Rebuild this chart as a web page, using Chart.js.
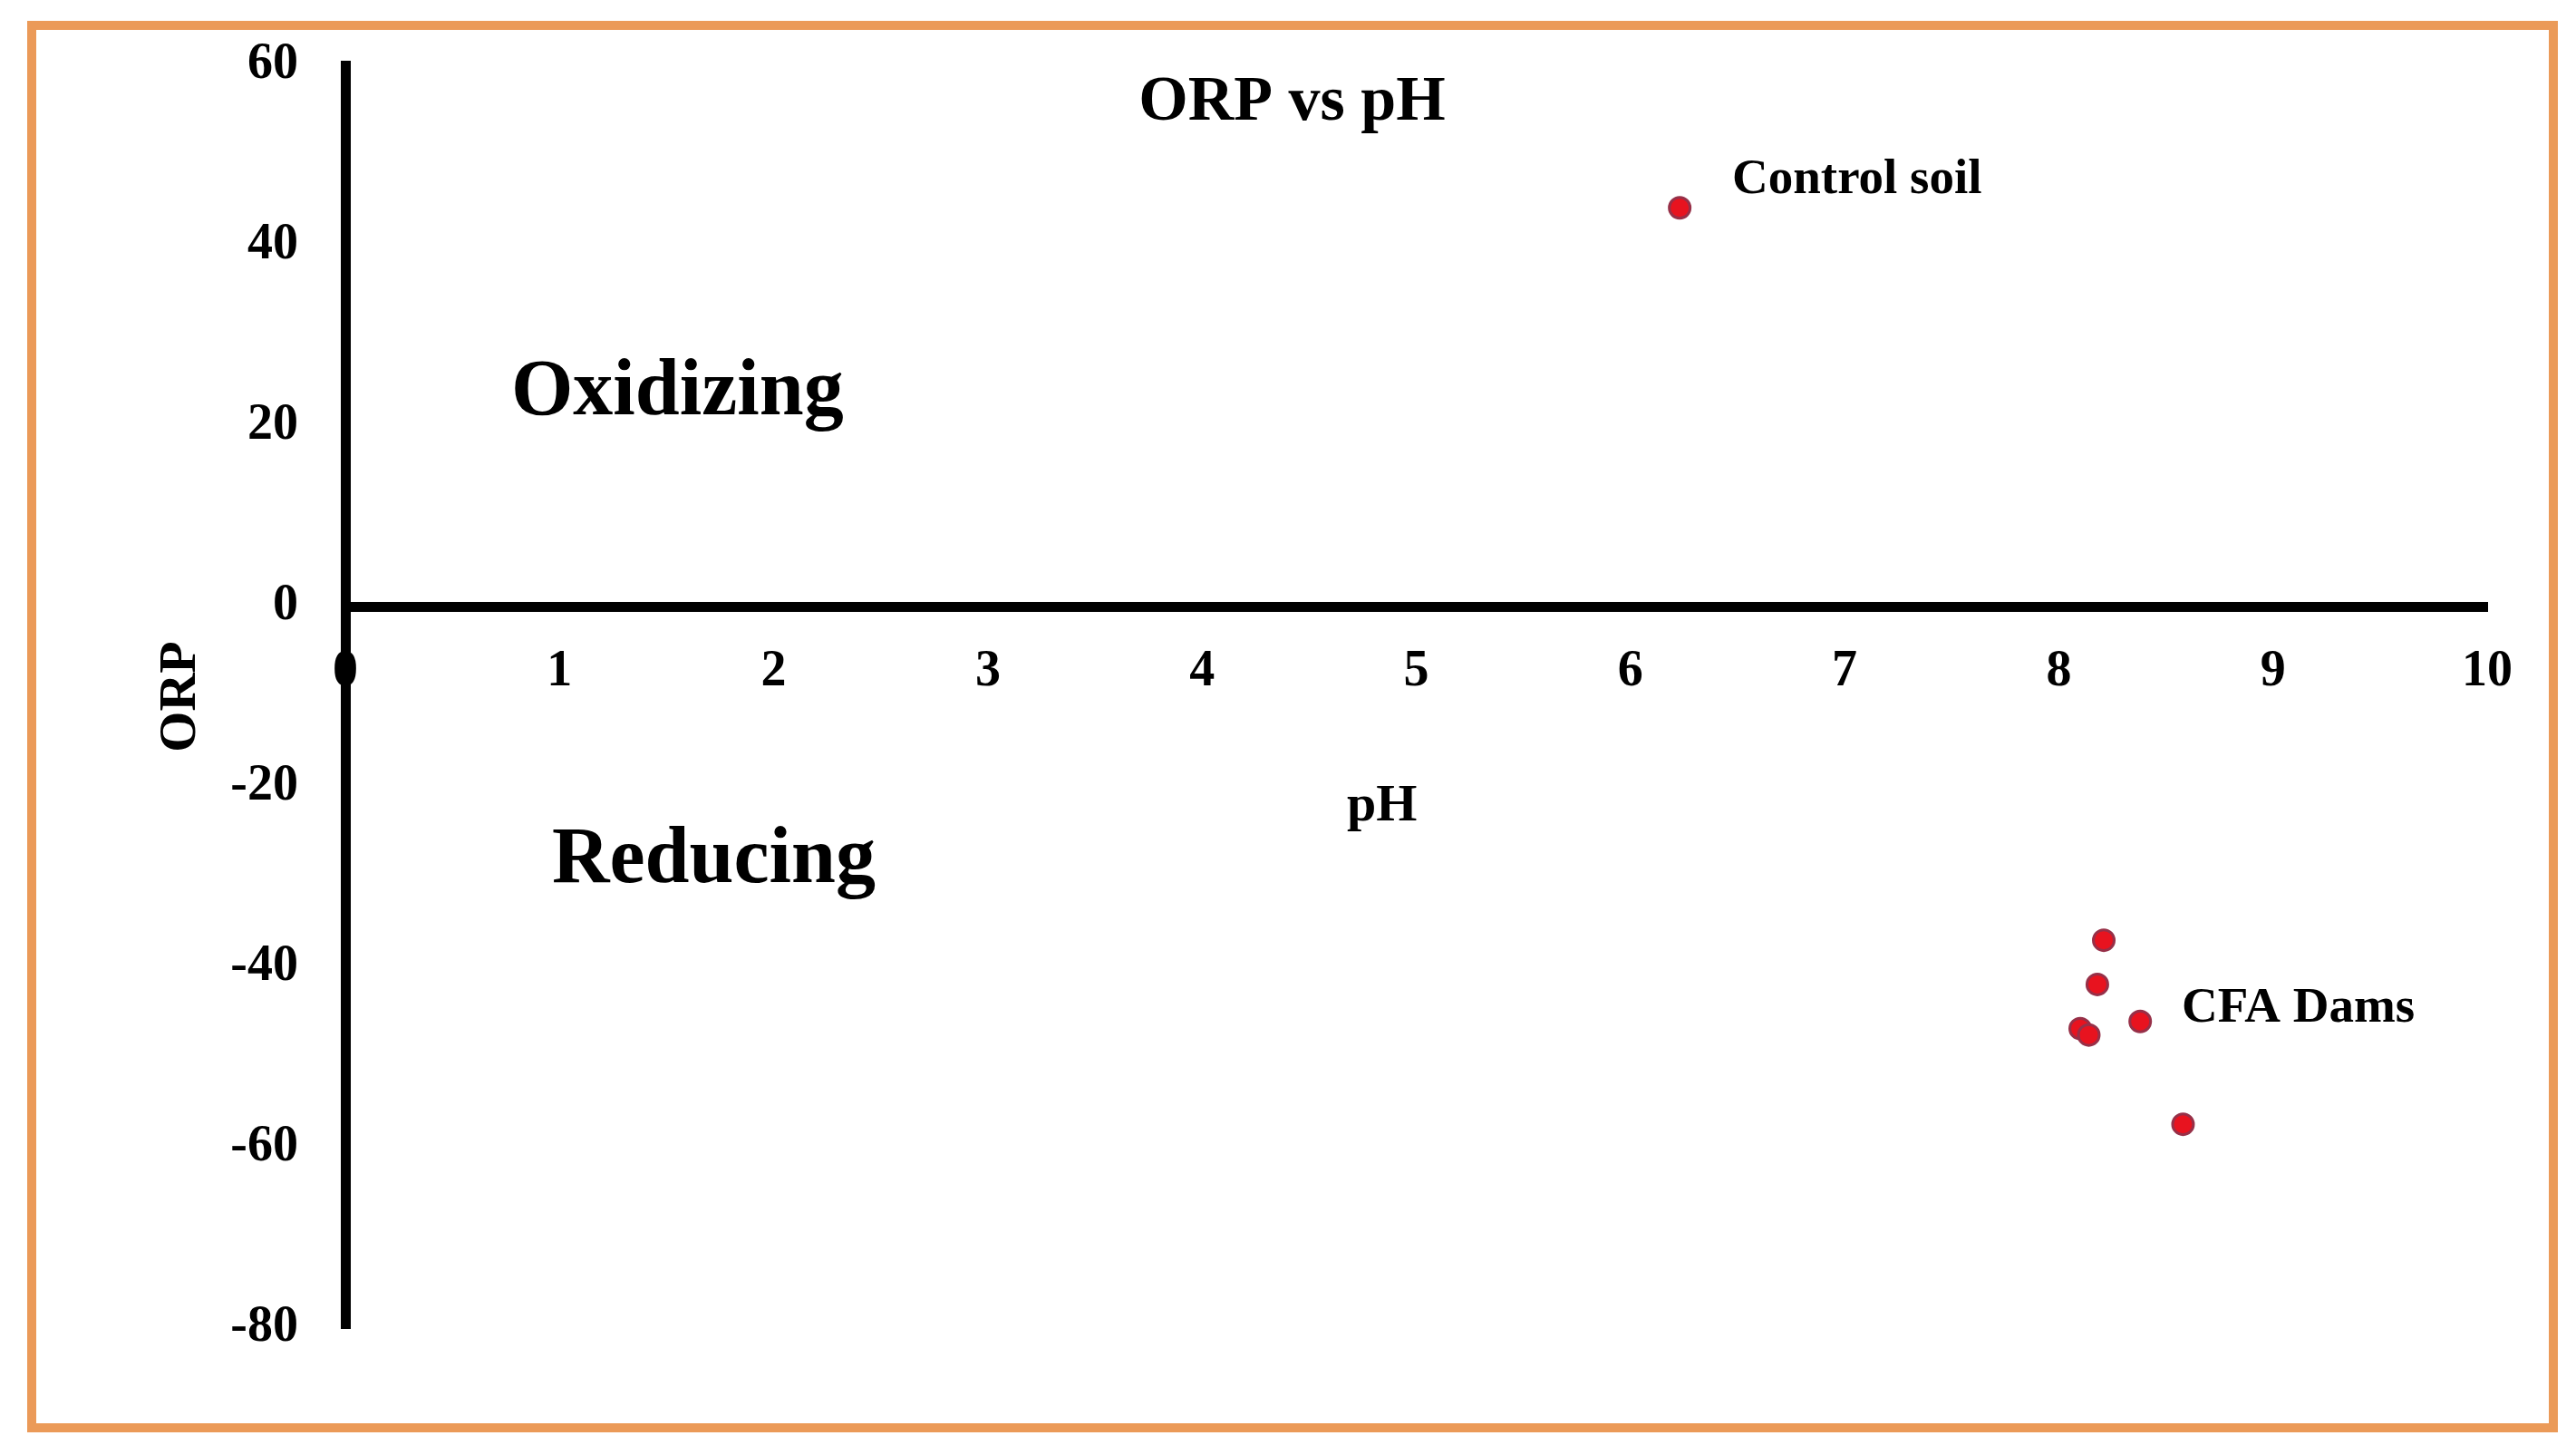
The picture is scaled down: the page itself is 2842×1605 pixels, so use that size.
<!DOCTYPE html>
<html>
<head>
<meta charset="utf-8">
<script src="https://cdn.jsdelivr.net/npm/chart.js@4.4.1/dist/chart.umd.min.js"></script>
<style>
  html, body { margin: 0; padding: 0; background: #fff; }
  #wrap { position: absolute; left: 0; top: 0; width: 2842px; height: 1605px; }
</style>
</head>
<body>
<div id="wrap"><canvas id="myChart"></canvas></div>
<script>
// Datos
const controlPH = [6.23]
const controlORP = [44.2]
const damsPH = [8.21, 8.18, 8.10, 8.14, 8.38, 8.58]
const damsORP = [-37.0, -41.9, -46.8, -47.5, -46.0, -57.4]

const xTicks = [0, 1, 2, 3, 4, 5, 6, 7, 8, 9, 10]
const yTicks = [-80, -60, -40, -20, 0, 20, 40, 60]

const FONT = "'Liberation Serif', 'Times New Roman', serif"

// Textos sobre el area del grafico (posicion en unidades de los ejes)
const notes = [
  { text: 'ORP vs pH', ph: 4.42, orp: 54.0, size: 70, align: 'center' },
  { text: 'Control soil', ph: 6.475, orp: 45.8, size: 55, align: 'left' },
  { text: 'Oxidizing', ph: 1.55, orp: 21.3, size: 88, align: 'center' },
  { text: 'Reducing', ph: 1.72, orp: -30.6, size: 88, align: 'center' },
  { text: 'pH', ph: 4.84, orp: -23.7, size: 58, align: 'center' },
  { text: 'CFA Dams', ph: 8.574, orp: -46.0, size: 55, align: 'left' }
]

const toPoints = (xs, ys) => xs.map((v, i) => ({ x: v, y: ys[i] }))

// Marco naranja y fondo
const framePlugin = {
  id: 'frame',
  beforeDraw(chart) {
    const ctx = chart.ctx
    ctx.save()
    ctx.fillStyle = '#fff'
    ctx.fillRect(0, 0, chart.width, chart.height)
    ctx.strokeStyle = '#eb9a58'
    ctx.lineWidth = 10
    ctx.strokeRect(35, 28, 2782, 1547)
    ctx.restore()
  }
}

const notesPlugin = {
  id: 'notes',
  afterDatasetsDraw(chart) {
    const { ctx, scales: { x, y } } = chart
    ctx.save()
    ctx.fillStyle = '#000'
    ctx.textBaseline = 'alphabetic'
    notes.forEach(n => {
      ctx.font = `bold ${n.size}px ${FONT}`
      ctx.textAlign = n.align
      ctx.fillText(n.text, x.getPixelForValue(n.ph), y.getPixelForValue(n.orp))
    })
    ctx.restore()
  }
}

const pointStyle = {
  backgroundColor: '#e8131f',
  borderColor: '#973048',
  borderWidth: 3,
  pointRadius: 11.5,
  pointHoverRadius: 11.5
}

const ctx = document.getElementById('myChart').getContext('2d')
const myChart = new Chart(ctx, {
  type: 'scatter',
  data: {
    datasets: [
      { label: 'Control soil', data: toPoints(controlPH, controlORP), ...pointStyle },
      { label: 'CFA Dams', data: toPoints(damsPH, damsORP), ...pointStyle }
    ]
  },
  options: {
    responsive: true,
    maintainAspectRatio: false,
    animation: false,
    layout: {
      padding: { left: 101, top: 72, right: 98, bottom: 140 }
    },
    scales: {
      x: {
        type: 'linear',
        position: { y: 0 },
        min: 0,
        max: 10,
        afterBuildTicks: scale => { scale.ticks = xTicks.map(v => ({ value: v })) },
        afterFit: scale => { scale.height = 0 },
        grid: { display: false, drawTicks: false },
        border: { display: true, color: '#000', width: 11 },
        ticks: {
          color: '#000',
          padding: 39,
          font: { family: FONT, size: 56, weight: 'bold' }
        }
      },
      y: {
        type: 'linear',
        position: 'left',
        min: -80,
        max: 60,
        afterBuildTicks: scale => { scale.ticks = yTicks.map(v => ({ value: v })) },
        afterFit: scale => {
          // ancho fijo y sin relleno extra arriba/abajo para que el eje llegue a 60 y -80
          scale.width = 280
          scale.paddingTop = 0
          scale.paddingBottom = 0
        },
        grid: { display: false, drawTicks: false },
        border: { display: true, color: '#000', width: 11 },
        ticks: {
          color: '#000',
          padding: 52,
          font: { family: FONT, size: 56, weight: 'bold' }
        },
        title: {
          display: true,
          text: 'ORP',
          color: '#000',
          padding: { top: 64, bottom: 0 },
          font: { family: FONT, size: 58, weight: 'bold' }
        }
      }
    },
    plugins: {
      legend: { display: false },
      tooltip: { enabled: false },
      title: { display: false }
    }
  },
  plugins: [framePlugin, notesPlugin]
})
</script>
</body>
</html>
